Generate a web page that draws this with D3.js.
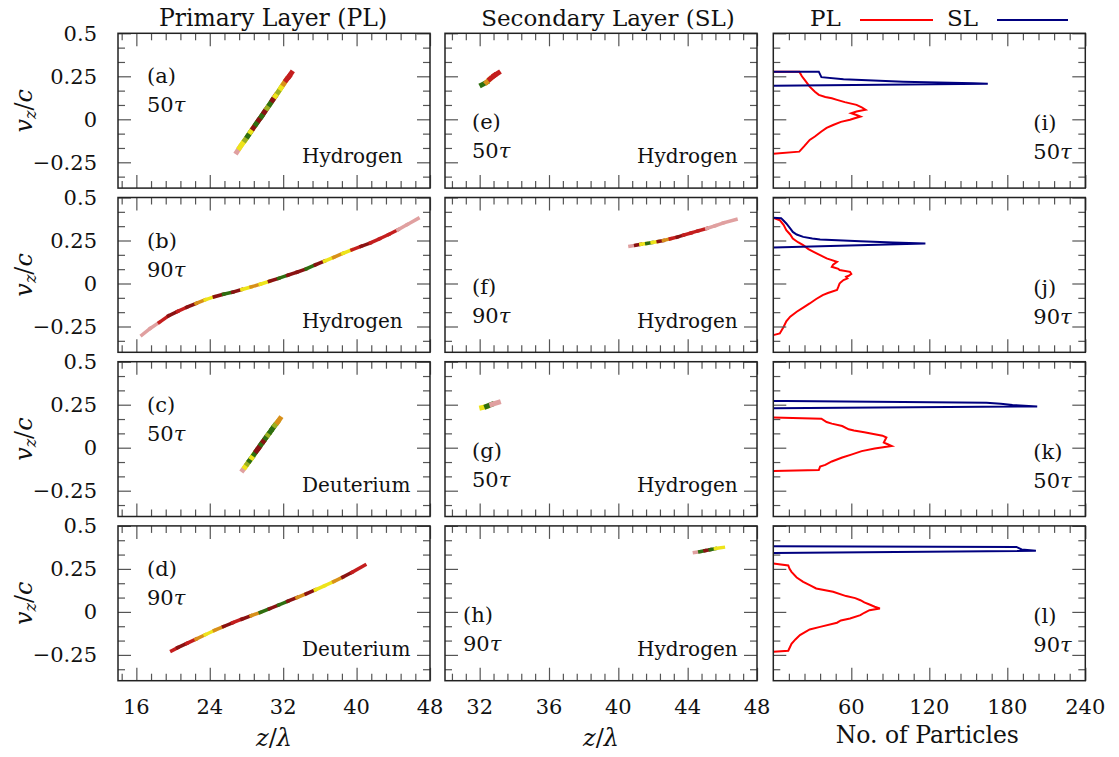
<!DOCTYPE html>
<html>
<head>
<meta charset="utf-8">
<script src="https://cdn.jsdelivr.net/npm/d3@7"></script>
<style>
body { margin: 0; background: #fff; }
text { font-family: 'DejaVu Serif', serif; fill: #111; }
</style>
</head>
<body>
<svg id="viz" width="1119" height="757"></svg>
<script>
// colour levels of the phase-space plots
var palette = ['#e0a0a0', '#c41e1e', '#8a1212', '#2e6e10', '#eee41a', '#d8901a', '#9cb020'];

// strips: [z, vz, colour index] -- segment i uses the colour of point i
var stripA = [[26.95,-0.19,0],[27.25,-0.165,4],[27.55,-0.142,4],[27.85,-0.12,6],[28.15,-0.097,3],[28.45,-0.073,4],
  [28.75,-0.05,2],[29.05,-0.027,3],[29.35,-0.004,2],[29.65,0.018,3],[29.95,0.042,2],[30.25,0.065,6],[30.55,0.088,3],
  [30.85,0.112,2],[31.15,0.135,4],[31.45,0.158,6],[31.75,0.182,4],[32.05,0.206,5],[32.35,0.23,1],[32.65,0.25,1],[32.9,0.27,1]];
var stripB = [[16.6,-0.30,0],[17.5,-0.262,0],[18.5,-0.226,1],[19.5,-0.188,2],[20.5,-0.162,1],[21.5,-0.138,2],[22.5,-0.116,5],
  [23.5,-0.095,4],[24.5,-0.077,2],[25.5,-0.062,3],[26.5,-0.05,2],[27.5,-0.035,4],[28.5,-0.02,5],[29.5,-0.004,4],[30.5,0.013,2],
  [31.5,0.03,3],[32.5,0.048,2],[33.5,0.066,2],[34.5,0.085,3],[35.5,0.108,2],[36.5,0.13,4],[37.5,0.152,5],[38.5,0.175,4],
  [39.5,0.196,1],[40.5,0.216,2],[41.5,0.236,1],[42.5,0.26,1],[43.5,0.285,1],[44.5,0.312,0],[45.5,0.342,0],[46.7,0.378,0]];
var stripC = [[27.6,-0.13,0],[27.85,-0.112,4],[28.1,-0.093,6],[28.35,-0.075,3],[28.6,-0.057,4],[28.85,-0.037,3],[29.1,-0.018,2],
  [29.35,0.0,2],[29.6,0.02,3],[29.85,0.038,2],[30.1,0.057,3],[30.35,0.075,6],[30.6,0.093,3],[30.85,0.112,3],[31.1,0.13,6],
  [31.4,0.15,5],[31.65,0.169,0]];
var stripD = [[19.85,-0.226,1],[20.5,-0.208,2],[21.5,-0.183,1],[22.5,-0.158,5],[23.5,-0.133,4],[24.5,-0.108,5],[25.5,-0.085,2],
  [26.5,-0.063,1],[27.5,-0.042,2],[28.5,-0.022,5],[29.5,-0.003,3],[30.5,0.018,2],[31.5,0.04,3],[32.5,0.062,2],[33.5,0.083,5],
  [34.5,0.105,2],[35.5,0.128,4],[36.5,0.152,4],[37.5,0.176,5],[38.5,0.202,2],[39.5,0.23,1],[40.9,0.272,1]];
var stripE = [[32.12,0.2,3],[32.4,0.215,5],[32.6,0.235,1],[32.85,0.255,1],[33.08,0.27,1]];
var stripF = [[40.67,0.217,0],[41.0,0.222,2],[41.3,0.228,4],[41.64,0.233,3],[41.95,0.238,4],[42.3,0.244,2],[42.6,0.25,5],
  [43.0,0.26,1],[43.4,0.27,2],[43.75,0.281,1],[44.2,0.294,1],[44.6,0.306,1],[45.1,0.32,0],[45.6,0.336,0],[46.06,0.352,0],[46.79,0.372,0]];
var stripG = [[32.12,0.233,4],[32.4,0.24,3],[32.7,0.252,0],[33.08,0.264,0]];
var stripH = [[44.39,0.345,0],[44.7,0.35,3],[45.0,0.356,2],[45.3,0.362,3],[45.6,0.368,4],[46.06,0.375,4]];

// histograms: [vz, number of particles]
var histI_PL = [[0.277,0],[0.277,20],[0.25,22],[0.22,25],[0.19,28],[0.16,32],[0.142,35],[0.13,40],[0.122,45],[0.113,49],
  [0.1,55],[0.084,64],[0.07,68],[0.055,71],[0.045,64],[0.035,60],[0.025,64],[0.016,67],[0.005,62],[-0.003,59],[-0.015,52],
  [-0.033,46],[-0.05,41],[-0.071,37],[-0.1,32],[-0.12,28],[-0.155,24],[-0.188,20],[-0.2,0]];
var histI_SL = [[0.277,0],[0.277,35],[0.245,37],[0.233,54],[0.219,100],[0.21,154],[0.206,165],[0.195,0]];
var histJ_PL = [[0.382,0],[0.368,5],[0.34,8],[0.31,10],[0.285,13],[0.262,15],[0.24,19],[0.223,23],[0.2,27],[0.184,31],
  [0.165,36],[0.146,41],[0.126,49],[0.11,46],[0.097,45],[0.085,50],[0.078,51],[0.068,59],[0.055,60],[0.045,58],[0.039,56],
  [0.03,57],[0.02,54],[0.008,52],[0,51],[-0.02,50],[-0.038,49],[-0.055,42],[-0.067,38],[-0.09,33],[-0.116,28],[-0.14,23],
  [-0.164,18],[-0.193,13],[-0.22,10],[-0.251,8],[-0.29,5],[-0.30,0]];
var histJ_SL = [[0.382,0],[0.38,6],[0.365,8],[0.349,10],[0.32,13],[0.30,15],[0.285,18],[0.271,23],[0.262,30],[0.256,36],
  [0.246,67],[0.239,92],[0.233,117],[0.21,0]];
var histK_PL = [[0.175,0],[0.169,37],[0.149,41],[0.14,45],[0.126,53],[0.107,58],[0.1,62],[0.09,70],[0.078,78],[0.07,84],
  [0.059,87],[0.045,86],[0.03,85],[0.02,88],[0.01,91],[-0.005,78],[-0.02,68],[-0.04,60],[-0.057,53],[-0.08,45],[-0.1,40],
  [-0.11,36],[-0.13,35],[-0.135,0]];
var histK_SL = [[0.272,0],[0.271,10],[0.266,100],[0.262,164],[0.255,175],[0.248,184],[0.24,203],[0.229,0]];
var histL_PL = [[0.282,0],[0.27,11.5],[0.25,12.5],[0.233,14],[0.2,18],[0.175,23],[0.155,28],[0.136,33],[0.117,46],[0.092,56],
  [0.08,63],[0.068,67],[0.055,70],[0.043,74],[0.03,78],[0.02,82],[0.01,74],[-0.005,70],[-0.019,67],[-0.038,59],[-0.05,52],
  [-0.063,49],[-0.087,36],[-0.102,28],[-0.135,20.5],[-0.16,17],[-0.185,14],[-0.226,11.5],[-0.232,0]];
var histL_SL = [[0.382,0],[0.378,187],[0.363,191],[0.355,202],[0.343,0]];

// labels
var colTitles = ['Primary Layer (PL)', 'Secondary Layer (SL)'];
var letters = ['a','b','c','d','e','f','g','h','i','j','k','l'];
var times = ['50','90','50','90'];
var speciesPL = ['Hydrogen','Hydrogen','Deuterium','Deuterium'];
var speciesSL = ['Hydrogen','Hydrogen','Hydrogen','Hydrogen'];
var yTicks = [-0.25, 0, 0.25, 0.5];
var yTickLabels = ['\u22120.25', '0', '0.25', '0.5'];
var yMinor = [-1/3, -1/6, -1/12, 1/12, 1/6, 1/3, 5/12];
var xTicks = [[16,24,32,40,48],[32,36,40,44,48],[60,120,180,240]];
var xMinorStep = [1.6, 0.8, 12];
var xDomains = [[14,48],[30,48],[0,240]];
var yDomain = [-0.4, 0.5];

var svg = d3.select('#viz');
var colX = [118, 445, 773.3];
var rowY = [33.3, 197.5, 361.7, 525.9];
var W = 312, H = 154.8;

var xs = xDomains.map(function (dom) { return d3.scaleLinear().domain(dom).range([0, W]); });
var y = d3.scaleLinear().domain(yDomain).range([H, 0]);

var strips = [[stripA, stripB, stripC, stripD], [stripE, stripF, stripG, stripH]];
var stripWidth = [[5, 3.5, 5, 3.5], [5, 3.5, 5, 3.5]];
var hists = [[histI_PL, histI_SL], [histJ_PL, histJ_SL], [histK_PL, histK_SL], [histL_PL, histL_SL]];

function minorTicks(dom, step, majors) {
  var out = [];
  var start = Math.ceil(dom[0] / step - 1e-6) * step;
  for (var v = start; v <= dom[1] + 1e-6; v += step) {
    var r = Math.round(v * 1000) / 1000;
    if (majors.indexOf(r) < 0 && r > dom[0] + 1e-6 && r < dom[1] - 1e-6) out.push(r);
  }
  return out;
}

function styleTicks(ax) {
  ax.select('.domain').remove();
  ax.selectAll('line').attr('stroke', '#555').attr('stroke-width', 1.2);
}

for (var c = 0; c < 3; c++) {
  for (var r = 0; r < 4; r++) {
    var x = xs[c];
    var g = svg.append('g').attr('transform', 'translate(' + colX[c] + ',' + rowY[r] + ')');

    // data
    if (c < 2) {
      var s = strips[c][r];
      g.selectAll('line.seg')
        .data(s.slice(0, -1))
        .join('line')
        .attr('x1', function (d) { return x(d[0]); })
        .attr('y1', function (d) { return y(d[1]); })
        .attr('x2', function (d, i) { return x(s[i + 1][0]); })
        .attr('y2', function (d, i) { return y(s[i + 1][1]); })
        .attr('stroke', function (d) { return palette[d[2]]; })
        .attr('stroke-width', stripWidth[c][r])
        .attr('stroke-linecap', 'square');
    } else {
      var line = d3.line().x(function (d) { return x(d[1]); }).y(function (d) { return y(d[0]); });
      g.append('path').attr('d', line(hists[r][0])).attr('fill', 'none').attr('stroke', '#ff0000').attr('stroke-width', 2);
      g.append('path').attr('d', line(hists[r][1])).attr('fill', 'none').attr('stroke', '#00007f').attr('stroke-width', 2);
    }

    // ticks on all four sides, pointing inward
    var xMin = minorTicks(xDomains[c], xMinorStep[c], xTicks[c].concat([0]));
    [[d3.axisBottom, H, xTicks[c], 13], [d3.axisBottom, H, xMin, 7], [d3.axisTop, 0, xTicks[c], 13], [d3.axisTop, 0, xMin, 7]]
      .forEach(function (a) {
        g.append('g').attr('transform', 'translate(0,' + a[1] + ')')
          .call(a[0](x).tickValues(a[2]).tickSizeInner(-a[3]).tickSizeOuter(0).tickFormat(''))
          .call(styleTicks);
      });
    [[d3.axisLeft, 0, yTicks, 13], [d3.axisLeft, 0, yMinor, 7], [d3.axisRight, W, yTicks, 13], [d3.axisRight, W, yMinor, 7]]
      .forEach(function (a) {
        g.append('g').attr('transform', 'translate(' + a[1] + ',0)')
          .call(a[0](y).tickValues(a[2]).tickSizeInner(-a[3]).tickSizeOuter(0).tickFormat(''))
          .call(styleTicks);
      });

    g.append('rect').attr('width', W).attr('height', H).attr('fill', 'none').attr('stroke', '#222').attr('stroke-width', 1.5);

    // tick labels
    if (c == 0) {
      g.selectAll('text.yl').data(yTicks).join('text')
        .attr('x', -21).attr('y', function (d) { return y(d); }).attr('dy', '0.36em')
        .attr('text-anchor', 'end').style('font-size', '21px')
        .text(function (d, i) { return yTickLabels[i]; });
    }
    if (r == 3) {
      g.selectAll('text.xl').data(xTicks[c]).join('text')
        .attr('x', function (d) { return x(d); }).attr('y', H + 33)
        .attr('text-anchor', 'middle').style('font-size', '21px')
        .text(function (d) { return d; });
    }

    // panel annotations
    var lx = [29, 27, 260][c], ly = [50, 96, 97][c];
    if (c == 1 && r == 3) lx = 18;
    g.append('text').attr('x', lx).attr('y', ly).style('font-size', '21px').text('(' + letters[c * 4 + r] + ')');
    var t = g.append('text').attr('x', lx).attr('y', ly + 29).style('font-size', '21px');
    t.append('tspan').text(times[r]);
    t.append('tspan').style('font-style', 'italic').text('\u03c4');
    if (c < 2) {
      g.append('text').attr('x', c == 0 ? 184 : 192).attr('y', 130).style('font-size', '20px')
        .text(c == 0 ? speciesPL[r] : speciesSL[r]);
    }
  }
}

// y axis titles
rowY.forEach(function (ry) {
  var t = svg.append('text').attr('transform', 'translate(32,' + (ry + H / 2) + ') rotate(-90)')
    .attr('text-anchor', 'middle').style('font-size', '24px');
  t.append('tspan').style('font-style', 'italic').text('v');
  t.append('tspan').style('font-style', 'italic').style('font-size', '16px').attr('dy', 4).text('z');
  t.append('tspan').attr('dy', -4).text('/');
  t.append('tspan').style('font-style', 'italic').text('c');
});

// x axis titles
[0, 1].forEach(function (c) {
  var t = svg.append('text').attr('x', colX[c] + W / 2).attr('y', 746).attr('text-anchor', 'middle').style('font-size', '24px');
  t.append('tspan').style('font-style', 'italic').text('z');
  t.append('tspan').text('/');
  t.append('tspan').style('font-style', 'italic').text('\u03bb');
});
svg.append('text').attr('x', colX[2] + W / 2 - 2).attr('y', 743).attr('text-anchor', 'middle').style('font-size', '23.5px').text('No. of Particles');

// column titles
svg.append('text').attr('x', 273).attr('y', 26).attr('text-anchor', 'middle').style('font-size', '23.5px').text(colTitles[0]);
svg.append('text').attr('x', 608).attr('y', 26).attr('text-anchor', 'middle').style('font-size', '23px').text(colTitles[1]);

// legend
var legend = [['PL', '#ff0000', 810, 860, 933], ['SL', '#00007f', 947, 997, 1068]];
legend.forEach(function (l) {
  svg.append('text').attr('x', l[2]).attr('y', 26).style('font-size', '23px').text(l[0]);
  svg.append('line').attr('x1', l[3]).attr('x2', l[4]).attr('y1', 20).attr('y2', 20).attr('stroke', l[1]).attr('stroke-width', 2);
});
</script>
</body>
</html>
